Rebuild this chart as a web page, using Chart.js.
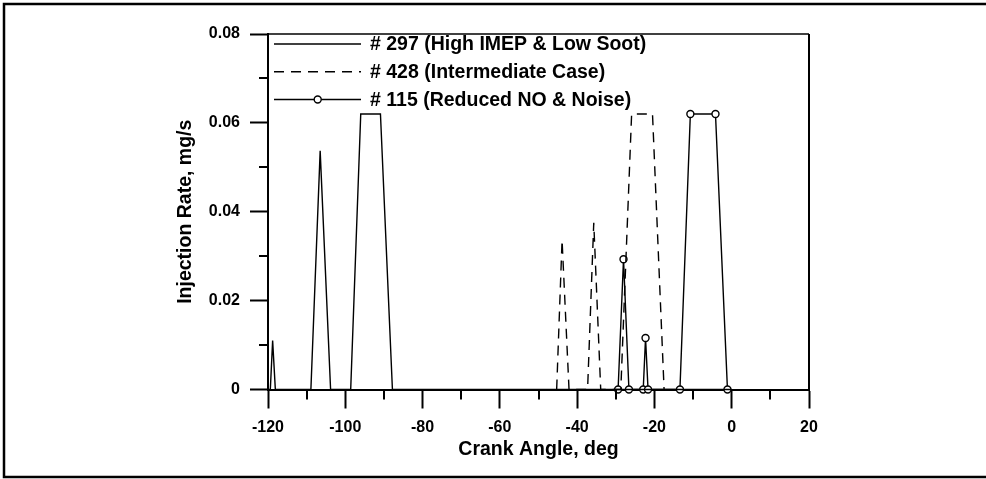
<!DOCTYPE html>
<html>
<head>
<meta charset="utf-8">
<script src="https://cdn.jsdelivr.net/npm/chart.js@4.4.1/dist/chart.umd.min.js"></script>
<style>
  body { margin: 0; background: #fff; }
</style>
</head>
<body>
<canvas id="injChart" width="986" height="479"></canvas>
<script>
// Crank angle (deg) and injection rate (mg/s) for each case
const angle297 = [-120, -119.4, -118.8, -118.1, -108.9, -106.5, -103.8, -98.6, -96.0, -90.9, -87.8, 0];
const rate297  = [0, 0, 0.011, 0, 0, 0.0537, 0, 0, 0.062, 0.062, 0, 0];

const angle428 = [-45.3, -43.9, -42.1, -37.3, -35.7, -33.9, -28.7, -25.9, -20.5, -17.5];
const rate428  = [0, 0.0336, 0, 0, 0.0375, 0, 0, 0.062, 0.062, 0];

const angle115 = [-29.4, -28.0, -26.6, -22.9, -22.3, -21.65, -13.4, -10.7, -4.2, -1.1];
const rate115  = [0, 0.0293, 0, 0, 0.0116, 0, 0, 0.062, 0.062, 0];

const seriesLabels = ['# 297 (High IMEP & Low Soot)', '# 428 (Intermediate Case)', '# 115 (Reduced NO & Noise)'];

const xTicks = [-120, -100, -80, -60, -40, -20, 0, 20];
const yTicks = [0, 0.02, 0.04, 0.06, 0.08];

const FONT = '"Liberation Sans", Arial, sans-serif';

function toPoints(xs, ys) {
  return xs.map((x, i) => ({ x: x, y: ys[i] }));
}

// minor ticks, plot box, outer frame, legend
const framePlugin = {
  id: 'frame',
  afterDraw(chart) {
    const ctx = chart.ctx;
    const area = chart.chartArea;
    const xs = chart.scales.x;
    const ys = chart.scales.y;
    ctx.save();
    ctx.strokeStyle = '#000';

    // top + right edge of the plot box
    ctx.lineWidth = 1.5;
    ctx.beginPath();
    ctx.moveTo(area.left, area.top);
    ctx.lineTo(area.right, area.top);
    ctx.stroke();
    ctx.lineWidth = 2;
    ctx.beginPath();
    ctx.moveTo(area.right, area.top);
    ctx.lineTo(area.right, area.bottom);
    ctx.stroke();

    // minor ticks
    ctx.lineWidth = 2;
    for (let v = -110; v <= 10; v += 20) {
      const px = Math.round(xs.getPixelForValue(v));
      ctx.beginPath();
      ctx.moveTo(px, area.bottom);
      ctx.lineTo(px, area.bottom + 10);
      ctx.stroke();
    }
    for (let v = 0.01; v < 0.08; v += 0.02) {
      const py = Math.round(ys.getPixelForValue(v));
      ctx.beginPath();
      ctx.moveTo(area.left, py);
      ctx.lineTo(area.left - 9, py);
      ctx.stroke();
    }

    // outer frame (left, top, bottom)
    ctx.lineWidth = 2.5;
    ctx.beginPath();
    ctx.moveTo(986, 4);
    ctx.lineTo(4, 4);
    ctx.lineTo(4, 477);
    ctx.lineTo(986, 477);
    ctx.stroke();

    // legend inside the plot
    const rows = [44, 71.7, 99.5];
    chart.data.datasets.forEach((ds, i) => {
      const y = rows[i];
      ctx.lineWidth = ds.borderWidth;
      ctx.setLineDash(ds.borderDash || []);
      ctx.beginPath();
      ctx.moveTo(274, y);
      ctx.lineTo(361, y);
      ctx.stroke();
      ctx.setLineDash([]);
      if (ds.pointRadius > 0) {
        ctx.beginPath();
        ctx.arc(317.7, y, ds.pointRadius, 0, Math.PI * 2);
        ctx.fillStyle = '#fff';
        ctx.fill();
        ctx.lineWidth = ds.pointBorderWidth;
        ctx.stroke();
      }
      ctx.fillStyle = '#000';
      ctx.font = 'bold 19.5px ' + FONT;
      ctx.textBaseline = 'middle';
      ctx.textAlign = 'left';
      ctx.fillText(ds.label, 370, y + 1);
    });
    ctx.restore();
  }
};

const ctx = document.getElementById('injChart').getContext('2d');
const injChart = new Chart(ctx, {
  type: 'line',
  data: {
    datasets: [
      {
        label: seriesLabels[0],
        data: toPoints(angle297, rate297),
        borderColor: '#000',
        borderWidth: 1.4,
        pointRadius: 0,
        clip: false
      },
      {
        label: seriesLabels[1],
        data: toPoints(angle428, rate428),
        borderColor: '#000',
        borderWidth: 1.4,
        borderDash: [10, 7],
        pointRadius: 0,
        clip: false
      },
      {
        label: seriesLabels[2],
        data: toPoints(angle115, rate115),
        borderColor: '#000',
        borderWidth: 1.4,
        pointRadius: 3.5,
        pointBorderWidth: 1.4,
        pointBackgroundColor: '#fff',
        pointBorderColor: '#000',
        clip: false
      }
    ]
  },
  options: {
    responsive: false,
    animation: false,
    layout: {
      padding: { left: 170, top: 34, right: 177, bottom: 0 }
    },
    plugins: {
      legend: { display: false },
      tooltip: { enabled: false }
    },
    scales: {
      x: {
        type: 'linear',
        min: -120,
        max: 20,
        afterFit: s => { s.height = 89.5; },
        afterBuildTicks: s => { s.ticks = xTicks.map(v => ({ value: v })); },
        grid: { drawOnChartArea: false, tickLength: 19, tickColor: '#000', tickWidth: 2 },
        border: { color: '#000', width: 2 },
        ticks: {
          color: '#000',
          padding: 9,
          maxRotation: 0,
          font: { family: FONT, size: 16, weight: 'bold' }
        },
        title: {
          display: true,
          text: 'Crank Angle, deg',
          color: '#000',
          padding: { top: 0, bottom: 18 },
          font: { family: FONT, size: 19.5, weight: 'bold' }
        }
      },
      y: {
        min: 0,
        max: 0.08,
        afterFit: s => { s.width = 98; },
        afterBuildTicks: s => { s.ticks = yTicks.map(v => ({ value: v })); },
        grid: { drawOnChartArea: false, tickLength: 18, tickColor: '#000', tickWidth: 2 },
        border: { color: '#000', width: 2 },
        ticks: {
          color: '#000',
          padding: 10,
          font: { family: FONT, size: 16, weight: 'bold' },
          callback: v => (v === 0 ? '0' : v.toFixed(2))
        },
        title: {
          display: true,
          text: 'Injection Rate, mg/s',
          color: '#000',
          padding: { top: 3.6, bottom: 0 },
          font: { family: FONT, size: 19.5, weight: 'bold' }
        }
      }
    }
  },
  plugins: [framePlugin]
});
</script>
</body>
</html>
